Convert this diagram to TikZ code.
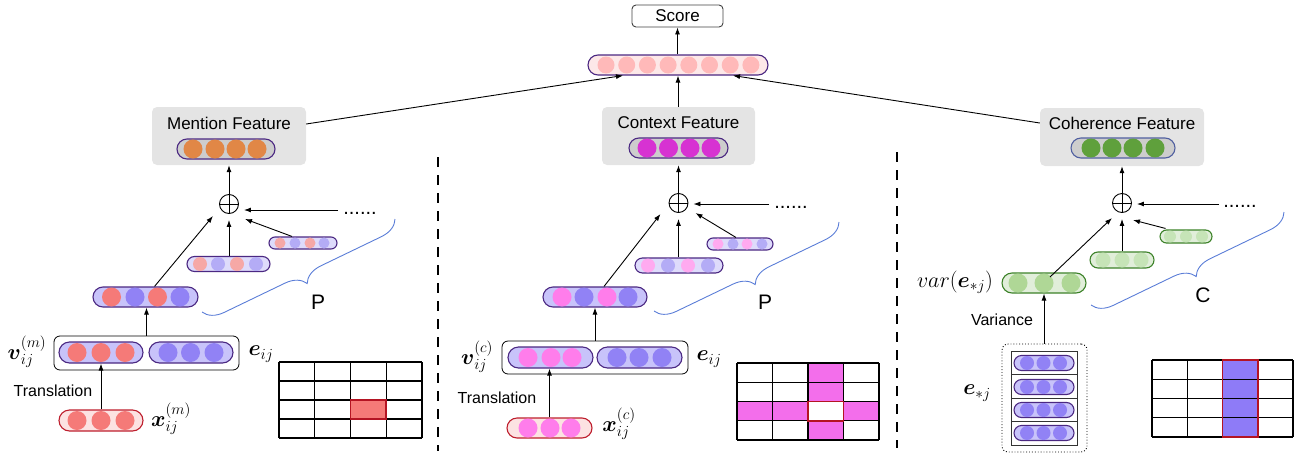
\RequirePackage{fix-cm}
\documentclass[tikz,border=0pt]{standalone}
\usepackage[no-math]{fontspec}
\setmainfont{Liberation Sans}
\usepackage{amsmath}
\usetikzlibrary{arrows.meta,decorations.pathreplacing,calc,shapes.misc}
\definecolor{purp}{RGB}{75,40,130}
\definecolor{lav}{RGB}{200,195,250}
\definecolor{lavl}{RGB}{222,219,251}
\definecolor{redc}{RGB}{245,122,120}
\definecolor{redl}{RGB}{246,168,166}
\definecolor{bluec}{RGB}{145,130,245}
\definecolor{bluel}{RGB}{180,172,246}
\definecolor{pinkf}{RGB}{252,226,226}
\definecolor{redb}{RGB}{190,30,45}
\definecolor{pinkc}{RGB}{255,125,235}
\definecolor{pinkl}{RGB}{255,170,240}
\definecolor{topfill}{RGB}{253,232,232}
\definecolor{topc}{RGB}{255,185,185}
\definecolor{orangec}{RGB}{225,135,70}
\definecolor{magc}{RGB}{215,50,210}
\definecolor{greenc}{RGB}{95,160,60}
\definecolor{featgray}{RGB}{228,228,228}
\definecolor{capgray}{RGB}{205,205,205}
\definecolor{cohb}{RGB}{80,95,160}
\definecolor{greenb}{RGB}{60,130,40}
\definecolor{greenf}{RGB}{225,238,218}
\definecolor{greenl}{RGB}{175,215,150}
\definecolor{greenll}{RGB}{198,228,183}
\definecolor{bracec}{RGB}{90,125,215}
\definecolor{gridmag}{RGB}{243,110,235}
\definecolor{gridblue}{RGB}{142,123,247}
\definecolor{gridred}{RGB}{180,20,35}
\newcommand{\fsMain}{\fontsize{17}{20}\selectfont}
\newcommand{\fsSmall}{\fontsize{16}{19}\selectfont}
\newcommand{\fsMath}{\fontsize{22}{26}\selectfont}
\newcommand{\fsBig}{\fontsize{21}{24}\selectfont}
\newcommand{\circs}[3]{\foreach \cx/\cc in {#3}{\fill[\cc] (\cx,#1) circle (#2pt);}}
\begin{document}
\begin{tikzpicture}[x=1pt,y=-1pt,
  arr/.style={-{Latex[length=7pt,width=5pt]}, line width=0.9pt},
  capsule/.style={rounded rectangle, inner sep=0pt, line width=1.1pt},
  vecP/.style={capsule, draw=purp, fill=lav},
  vecPl/.style={capsule, draw=purp, fill=lavl},
  vecX/.style={capsule, draw=redb, fill=pinkf},
  vecG/.style={capsule, draw=greenb, fill=greenf},
  featbox/.style={rectangle, rounded corners=5pt, fill=featgray, inner sep=0pt},
  featvec/.style={capsule, fill=capgray},
  concat/.style={rectangle, rounded corners=6pt, draw=black, line width=0.8pt, inner sep=0pt},
  oplus/.style={circle, draw, line width=0.9pt, minimum size=19pt, inner sep=0pt,
    path picture={\draw[line width=0.9pt] (path picture bounding box.north) -- (path picture bounding box.south)
      (path picture bounding box.west) -- (path picture bounding box.east);}},
  brc/.style={decorate, decoration={brace, amplitude=20pt}, draw=bracec, line width=0.9pt},
  gridl/.style={line width=1.3pt, black},
  sep/.style={line width=2.2pt, dash pattern=on 10pt off 8pt},
  lbl/.style={inner sep=0pt, font=\fsMain},
  lbls/.style={inner sep=0pt, font=\fsSmall},
  mlbl/.style={inner sep=0pt, font=\fsMath},
]
\useasboundingbox (0,0) rectangle (1311,458);

% ---------- top ----------
\node[rectangle, rounded corners=4pt, draw=black!75, line width=0.9pt, minimum width=91pt, minimum height=22pt, inner sep=0pt, font=\fsMain] (score) at (677.5,16) {Score};
\node[capsule, draw=purp, fill=topfill, minimum width=180pt, minimum height=20pt] (top) at (678,65) {};
\foreach \i in {0,...,7} {\fill[topc] ({606+20.7*\i},65) circle (8.5pt);}
\draw[arr] (top.north -| score.south) -- (score.south);

% ---------- feature boxes ----------
\node[featbox, minimum width=154pt, minimum height=58pt] (mf) at (229,136) {};
\node[lbl] (mft) at (229,123) {Mention Feature};
\node[featvec, draw=purp, minimum width=98pt, minimum height=20pt] (mfv) at (226,149) {};
\circs{149}{9.5}{193/orangec,215/orangec,236/orangec,257/orangec}

\node[featbox, minimum width=153pt, minimum height=58pt] (cf) at (678.5,136) {};
\node[lbl] (cft) at (678.5,123) {Context Feature};
\node[featvec, draw=purp, minimum width=99pt, minimum height=20pt] (cfv) at (678.5,148) {};
\circs{148}{9.5}{647/magc,668.5/magc,690/magc,711/magc}

\node[featbox, minimum width=164pt, minimum height=58pt] (hf) at (1122,137) {};
\node[lbl] (hft) at (1122,123) {Coherence Feature};
\node[featvec, draw=cohb, minimum width=104pt, minimum height=20pt] (hfv) at (1123,148) {};
\circs{148}{9.5}{1091/greenc,1112/greenc,1133/greenc,1155/greenc}

\draw[arr] ($(mf.east)+(0,-12)$) -- ($(top.south west)+(25,0)$);
\draw[arr] (cf.north -| top.south) -- (top.south);
\draw[arr] ($(hf.west)+(0,-14)$) -- ($(top.south east)+(-25,0)$);

% ---------- separators ----------
\draw[sep] (438,157) -- (438,451);
\draw[sep] (897,152) -- (897,448);

% ---------- left panel (mention) ----------
\node[oplus] (opm) at (229,204) {};
\draw[arr] (opm) -- (mf);
\node[inner sep=0pt, font=\fontsize{20}{22}\selectfont] (dm) at (360,213) {......};
\draw[arr, shorten >=5pt] ($(dm.west)+(-5,-3)$) -- ($(opm.east)+(0,6)$);

\node[vecPl, minimum width=68pt, minimum height=12pt] (b3m) at (303,243) {};
\circs{243}{5.5}{280/redl,295/bluel,310/redl,324/bluel}
\node[vecPl, minimum width=83pt, minimum height=15pt] (b2m) at (228.5,264) {};
\circs{264}{7}{200/redl,218/bluel,237/redl,256/bluel}
\node[vecP, minimum width=105pt, minimum height=20pt] (b1m) at (145.5,297) {};
\circs{297}{9.5}{111.5/redc,135/bluec,157.5/redc,180/bluec}

\draw[arr] ($(b1m.north)+(9,0)$) -- ($(opm)+(-16,12)$);
\draw[arr, shorten >=6pt] (b2m.north -| opm) -- (opm.south);
\draw[arr] ($(b3m.north west)+(17,0)$) -- ($(opm)+(16,15)$);

\node[concat, minimum width=185pt, minimum height=34pt] (cm) at (146.5,353) {};
\node[vecP, minimum width=84pt, minimum height=21pt] (vm) at (101,352.5) {};
\circs{352.5}{9.5}{77/redc,101/redc,125/redc}
\node[vecP, minimum width=84pt, minimum height=21pt] (em) at (191,352.5) {};
\circs{352.5}{9.5}{168/bluec,190.5/bluec,214/bluec}
\draw[arr] (cm.north) -- (cm.north |- b1m.south);

\node[vecX, minimum width=84pt, minimum height=21pt] (xm) at (101,420.5) {};
\circs{420.5}{9.5}{77/redc,101/redc,125/redc}
\draw[arr] (xm.north) -- (vm.south);

\node[mlbl] (lvm) at (27,352) {$\boldsymbol{v}_{ij}^{(m)}$};
\node[mlbl] (lem) at (261,354) {$\boldsymbol{e}_{ij}$};
\node[mlbl] (lxm) at (171,419) {$\boldsymbol{x}_{ij}^{(m)}$};
\node[lbls] (trm) at (53,391) {Translation};

\draw[brc] (395,219) -- (202,312);
\node[inner sep=0pt, font=\fsBig] (pm) at (318,302) {P};

% grid left
\fill[redc] (350.5,400) rectangle (386.25,419);
\foreach \i in {0,...,4} {\draw[gridl] ({279+35.75*\i},362) -- ({279+35.75*\i},438);}
\foreach \j in {0,...,4} {\draw[gridl] (279,{362+19*\j}) -- (422,{362+19*\j});}
\draw[gridred, line width=1.8pt] (350.5,400) rectangle (386.25,419);

% ---------- middle panel (context) ----------
\node[oplus] (opc) at (678.5,203) {};
\draw[arr] (opc) -- (cf);
\node[inner sep=0pt, font=\fontsize{20}{22}\selectfont] (dc) at (791,207) {......};
\draw[arr, shorten >=5pt] ($(dc.west)+(-5,-3)$) -- ($(opc.east)+(0,1)$);

\node[vecPl, minimum width=66pt, minimum height=12pt] (b3c) at (740,244) {};
\circs{244}{5.5}{718/pinkl,733/bluel,747/pinkl,762/bluel}
\node[vecPl, minimum width=88pt, minimum height=15pt] (b2c) at (679,265.5) {};
\circs{265.5}{7}{648/pinkl,668/bluel,688/pinkl,708/bluel}
\node[vecP, minimum width=104pt, minimum height=20pt] (b1c) at (595,297) {};
\circs{297}{9.5}{562/pinkc,584/bluec,607/pinkc,628/bluec}

\draw[arr] ($(b1c.north)+(9,0)$) -- ($(opc)+(-18,11)$);
\draw[arr, shorten >=6pt] (b2c.north -| opc) -- (opc.south);
\draw[arr] ($(b3c.north west)+(23,0)$) -- ($(opc)+(17,10)$);

\node[concat, minimum width=186pt, minimum height=33pt] (cc) at (595,357.5) {};
\node[vecP, minimum width=85pt, minimum height=21pt] (vc) at (550.5,357.5) {};
\circs{357.5}{9.5}{528/pinkc,551/pinkc,572/pinkc}
\node[vecP, minimum width=85pt, minimum height=21pt] (ec) at (639.5,357.5) {};
\circs{357.5}{9.5}{617/bluec,639/bluec,662/bluec}
\draw[arr] (cc.north) -- (cc.north |- b1c.south);

\node[vecX, minimum width=85pt, minimum height=20pt] (xc) at (549.5,428) {};
\circs{428}{9.5}{528/pinkc,550/pinkc,571/pinkc}
\draw[arr] (xc.north) -- (xc.north |- vc.south);

\node[mlbl] (lvc) at (477,357) {$\boldsymbol{v}_{ij}^{(c)}$};
\node[mlbl] (lec) at (709,359) {$\boldsymbol{e}_{ij}$};
\node[mlbl] (lxc) at (619,424) {$\boldsymbol{x}_{ij}^{(c)}$};
\node[lbls] (trc) at (497,398) {Translation};

\draw[brc] (839,222) -- (654,311);
\node[inner sep=0pt, font=\fsBig] (pc) at (765,302) {P};

% grid middle
\fill[gridmag] (808,363) rectangle (843.5,440);
\fill[gridmag] (737,401.5) rectangle (879,420.75);
\fill[white] (808,401.5) rectangle (843.5,420.75);
\foreach \i in {0,...,4} {\draw[gridl] ({737+35.5*\i},363) -- ({737+35.5*\i},440);}
\foreach \j in {0,...,4} {\draw[gridl] (737,{363+19.25*\j}) -- (879,{363+19.25*\j});}
\draw[gridred, line width=1.8pt] (808,401.5) rectangle (843.5,420.75);

% ---------- right panel (coherence) ----------
\node[oplus] (oph) at (1122,203) {};
\draw[arr] (oph) -- (hf);
\node[inner sep=0pt, font=\fontsize{20}{22}\selectfont] (dh) at (1240,206) {......};
\draw[arr, shorten >=5pt] ($(dh.west)+(-4,-2)$) -- ($(oph.east)+(0,1)$);

\node[vecG, minimum width=52pt, minimum height=13pt] (b3r) at (1186,236.5) {};
\circs{236.5}{6}{1170/greenll,1186/greenll,1202/greenll}
\node[vecG, minimum width=64pt, minimum height=16pt] (b2r) at (1122,260) {};
\circs{260}{7.5}{1103/greenll,1122/greenll,1141/greenll}
\node[vecG, minimum width=84pt, minimum height=20pt] (b1r) at (1044,283) {};
\circs{283}{9.5}{1018/greenl,1044/greenl,1071/greenl}

\draw[arr] ($(b1r)+(6,-6)$) -- ($(oph)+(-10,15)$);
\draw[arr, shorten >=6pt] (b2r.north -| oph) -- (oph.south);
\draw[arr] ($(b3r.north west)+(-1,-1)$) -- ($(oph)+(11,17)$);

\node[rectangle, draw, dotted, line width=0.9pt, rounded corners=6pt, minimum width=85pt, minimum height=108pt, inner sep=0pt] (estack) at (1044.5,398) {};
\draw[line width=1pt, black!80] (1011,351) rectangle (1077,445);
\foreach \yy in {374,398,421} {\draw[line width=1pt, black!80] (1011,\yy) -- (1077,\yy);}
\foreach \yy/\nm in {363/s1,387/s2,410/s3,433/s4} {
  \node[vecP, minimum width=60pt, minimum height=15pt] (\nm) at (1044,\yy) {};
  \circs{\yy}{7}{1027/bluec,1043.5/bluec,1060/bluec}
}
\draw[arr] (estack.north -| b1r.south) -- (b1r.south);

\node[mlbl] (lvar) at (955,282) {$var(\boldsymbol{e}_{*j})$};
\node[lbls] (varl) at (1002,320) {Variance};
\node[mlbl] (lestar) at (977,393) {$\boldsymbol{e}_{*j}$};

\draw[brc] (1284,212) -- (1091,305);
\node[inner sep=0pt, font=\fsBig] (ch) at (1203,295) {C};

% grid right
\fill[gridblue] (1222.5,360) rectangle (1257.75,437);
\foreach \i in {0,...,4} {\draw[gridl] ({1152+35.25*\i},360) -- ({1152+35.25*\i},437);}
\foreach \j in {0,...,4} {\draw[gridl] (1152,{360+19.25*\j}) -- (1293,{360+19.25*\j});}
\draw[gridred, line width=1.8pt] (1222.5,360) rectangle (1257.75,437);
\end{tikzpicture}
\end{document}
